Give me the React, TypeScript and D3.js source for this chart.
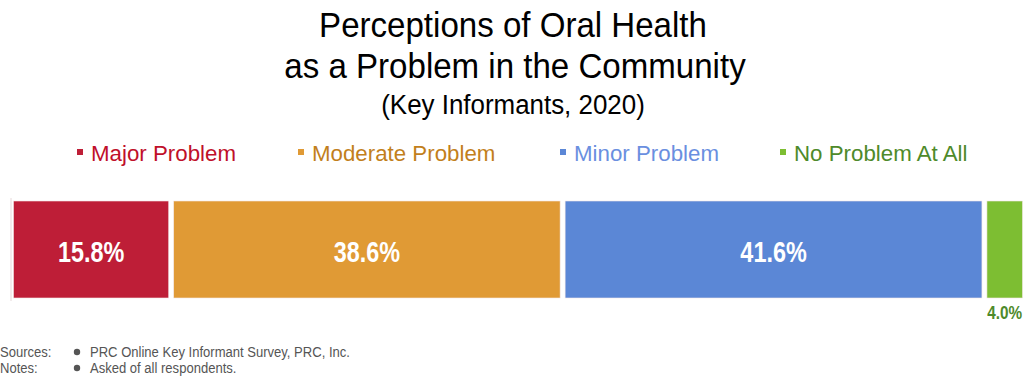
import React from "react";
import * as d3 from "d3";

const categories = ["Major Problem", "Moderate Problem", "Minor Problem", "No Problem At All"];
const values = [15.8, 38.6, 41.6, 4.0];
const barColors = ["#BE1E37", "#E09A35", "#5B87D6", "#7DBE32"];
const legendTextColors = ["#C0102A", "#C27F1C", "#6A8FE0", "#4E8A2A"];
const titleLines = ["Perceptions of Oral Health", "as a Problem in the Community"];
const subtitle = "(Key Informants, 2020)";
const footnotes = [
  ["Sources:", "PRC Online Key Informant Survey, PRC, Inc."],
  ["Notes:", "Asked of all respondents."],
];
const legendX = [80, 301, 563, 783];

export default function App() {
  const W = 1025, H = 379;
  const x = d3.scaleLinear().domain([0, 100]).range([11, 1025]);
  const y0 = 201, y1 = 298;
  const cum: number[] = [];
  values.reduce((acc, v) => { cum.push(acc); return acc + v; }, 0);
  const sans = "'Liberation Sans', Arial, sans-serif";
  return (
    <div style={{ position: "absolute", left: 0, top: 0 }}>
      <svg width={W} height={H} style={{ display: "block" }}>
        <rect width={W} height={H} fill="#fff" />
        <text transform="translate(513,37) scale(0.945,1)" textAnchor="middle" fontFamily={sans} fontSize={35} fill="#000">{titleLines[0]}</text>
        <text transform="translate(515,78) scale(0.945,1)" textAnchor="middle" fontFamily={sans} fontSize={35} fill="#000">{titleLines[1]}</text>
        <text transform="translate(513,114) scale(0.96,1)" textAnchor="middle" fontFamily={sans} fontSize={27} fill="#000">{subtitle}</text>
        {categories.map((c, i) => (
          <g key={c}>
            <rect x={legendX[i] - 3} y={149} width={6} height={6} fill={barColors[i]} />
            <text transform={`translate(${legendX[i] + 11},161) scale(0.97,1)`} fontFamily={sans} fontSize={23} fill={legendTextColors[i]}>{c}</text>
          </g>
        ))}
        <line x1={11} x2={11} y1={198} y2={301} stroke="#e6d9da" strokeWidth={1} />
        {values.map((v, i) => {
          const xa = x(cum[i]) + 2.5, xb = x(cum[i] + v) - 2.5;
          const cx = (xa + xb) / 2;
          return (
            <g key={i}>
              <rect x={xa} y={y0} width={xb - xa} height={y1 - y0} fill={barColors[i]} stroke="#f3e6e6" strokeWidth={0.6} />
              {v >= 10 ? (
                <text transform={`translate(${cx},262) scale(0.78,1)`} textAnchor="middle" fontFamily={sans} fontWeight="bold" fontSize={30} fill="#fff">{v.toFixed(1)}%</text>
              ) : (
                <text transform={`translate(${cx},319) scale(0.85,1)`} textAnchor="middle" fontFamily={sans} fontWeight="bold" fontSize={18} fill="#4E8A2A">{v.toFixed(1)}%</text>
              )}
            </g>
          );
        })}
        {footnotes.map((f, i) => (
          <g key={i} fontFamily={sans} fontSize={15} fill="#555">
            <text transform={`translate(0,${357 + i * 16}) scale(0.87,1)`}>{f[0]}</text>
            <circle cx={77} cy={352 + i * 16} r={3.2} fill="#555" />
            <text transform={`translate(90,${357 + i * 16}) scale(0.87,1)`}>{f[1]}</text>
          </g>
        ))}
      </svg>
    </div>
  );
}
